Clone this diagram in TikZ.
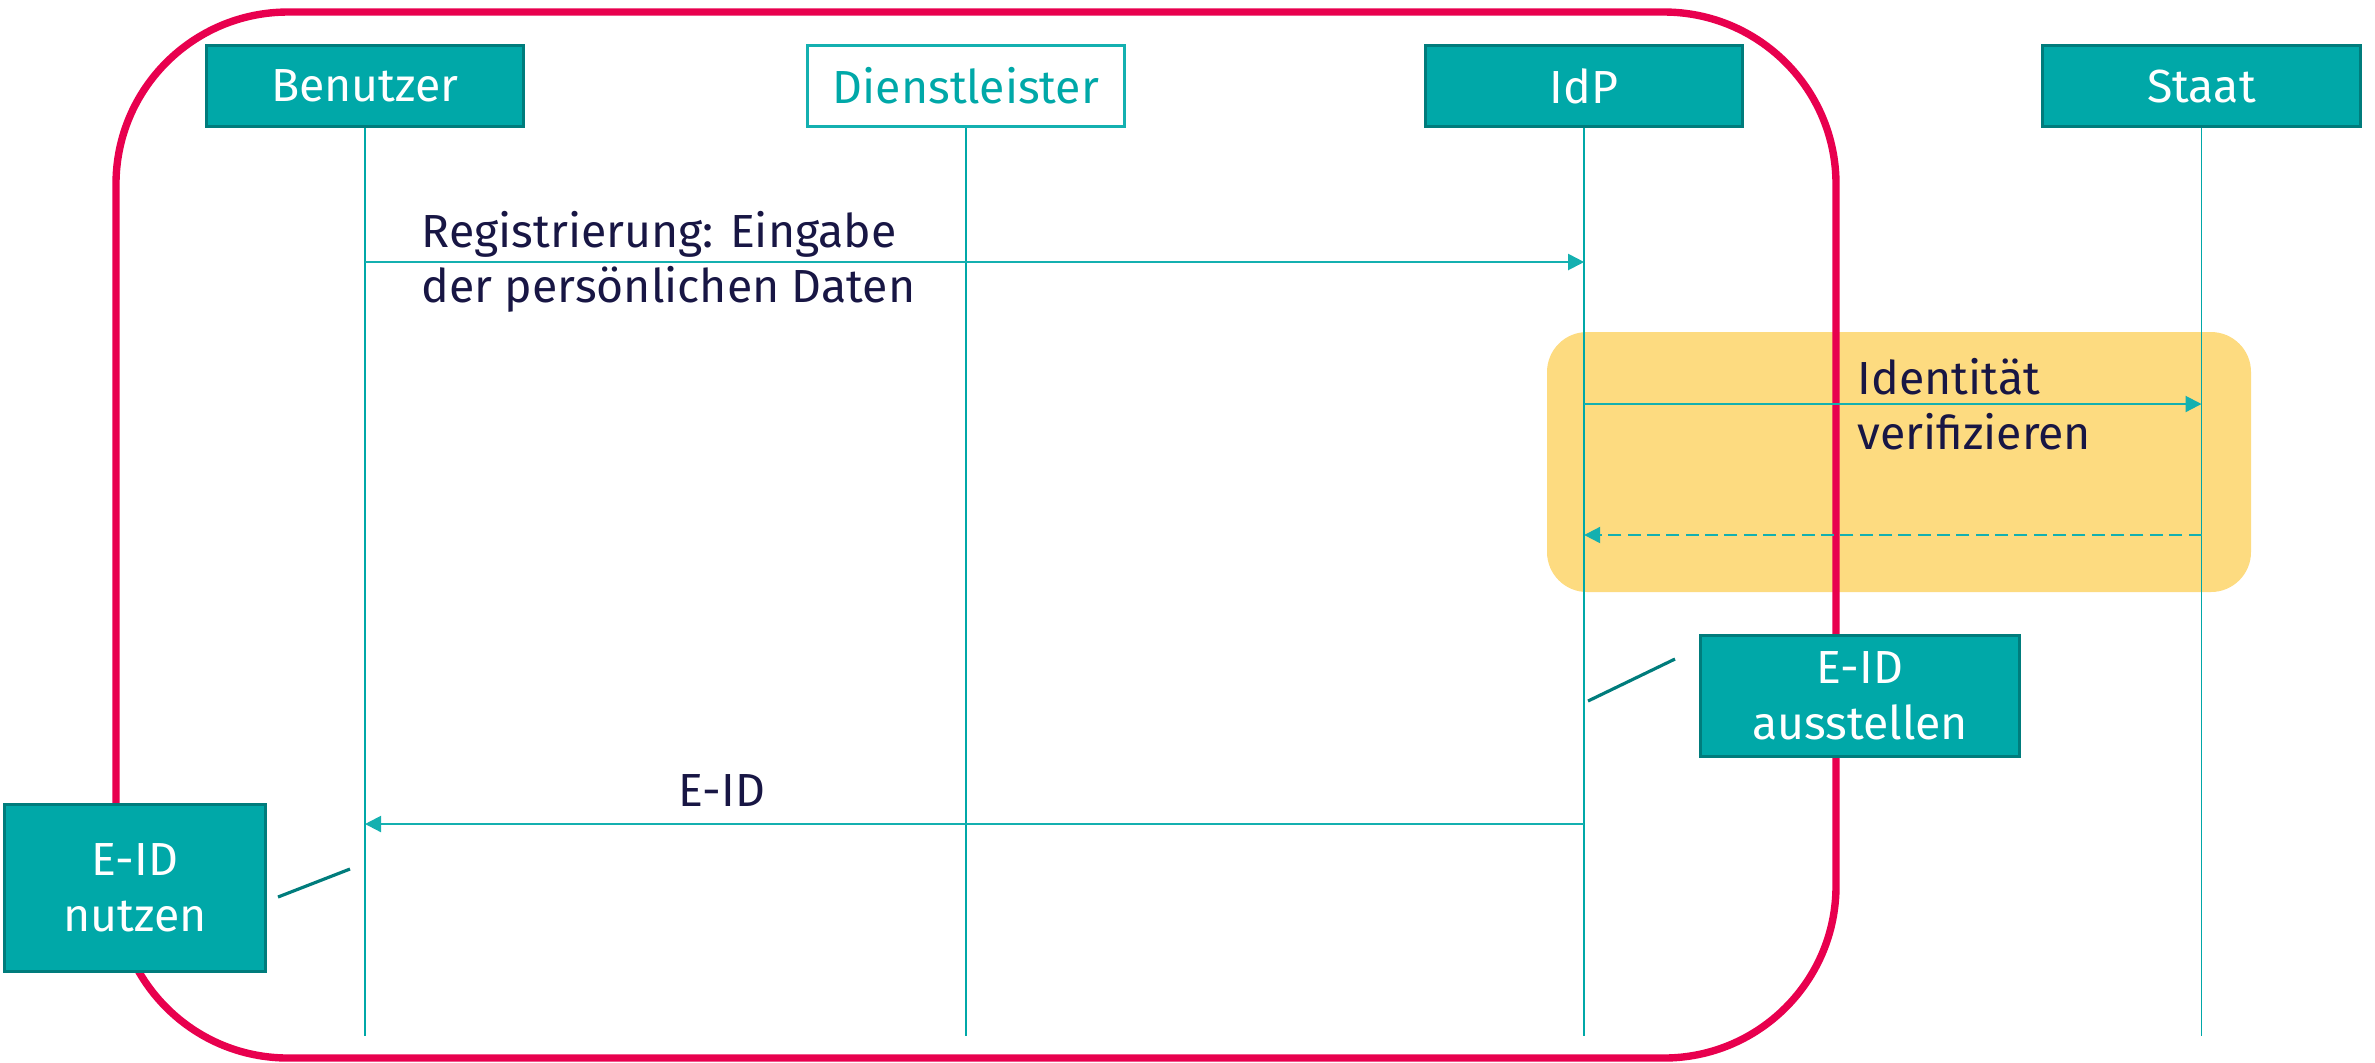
\documentclass[tikz,border=0pt]{standalone}
\usepackage{fontspec}
\setmainfont{Fira Sans}
\usepackage{tikz}
\usetikzlibrary{arrows.meta}
\usetikzlibrary{positioning}

\definecolor{tealbox}{RGB}{0,168,168}
\definecolor{tealdark}{RGB}{0,124,124}
\definecolor{tealline}{RGB}{20,176,176}
\definecolor{framered}{RGB}{232,0,78}
\definecolor{verifyyellow}{RGB}{253,219,128}
\definecolor{textnavy}{RGB}{24,22,68}

\begin{document}
\begin{tikzpicture}[
            x=0.01cm,y=-0.01cm,
            every node/.style={align=center,font=\fontsize{13.2}{15.8}\selectfont},
            actor box/.style={rectangle,draw=tealdark,line width=0.85pt,fill=tealbox,text=white,minimum width=3.17cm,minimum height=0.81cm},
            service box/.style={rectangle,draw=tealline,line width=0.7pt,fill=white,text=tealbox,minimum width=3.17cm,minimum height=0.81cm},
            action box/.style={rectangle,draw=tealdark,line width=0.85pt,fill=tealbox,text=white},
            msg label/.style={rectangle,draw=none,inner sep=0pt,text=textnavy,align=left},
            lifeline/.style={draw=tealbox,line width=0.55pt},
            msg/.style={draw=tealline,line width=0.6pt},
            reply/.style={msg,dash pattern=on 3.7pt off 1.8pt},
            note line/.style={draw=tealdark,line width=0.9pt},
            frame/.style={draw=framered,line width=2.1pt,rounded corners=1.72cm},
            verify area/.style={fill=verifyyellow,rounded corners=0.4cm}
        ]
        \tikzset{>={Triangle[length=1.6mm,width=1.6mm]}}
        \useasboundingbox (0,0) rectangle (2375,1062);

        \fill[verify area] (1547,332) rectangle (2251,592);
        \draw[frame] (116,12) rectangle (1836,1058);

        \node[actor box] (benutzer) at (365,86) {Benutzer};
        \node[service box,right=2.81cm of benutzer] (dienstleister) {Dienstleister};
        \node[actor box,right=2.98cm of dienstleister] (idp) {IdP};
        \node[actor box,right=2.97cm of idp] (staat) {Staat};

        \coordinate (benutzer end) at (benutzer |- 0,1036);
        \coordinate (dienstleister end) at (dienstleister |- 0,1036);
        \coordinate (idp end) at (idp |- 0,1036);
        \coordinate (staat end) at (staat |- 0,1036);

        \draw[lifeline] (benutzer) -- (benutzer end);
        \draw[lifeline] (dienstleister) -- (dienstleister end);
        \draw[lifeline] (idp) -- (idp end);
        \draw[lifeline] (staat) -- (staat end);

        \draw[msg,->] (benutzer |- 0,262) -- (idp |- 0,262);
        \node[msg label,anchor=west] (registrierung) at (421,262) {Registrierung: Eingabe\\der persönlichen Daten};

        \draw[msg,->] (idp |- 0,404) -- (staat |- 0,404);
        \node[msg label,anchor=west] (verifizieren) at (1857,404) {Identität\\verifizieren};
        \draw[reply,->] (staat |- 0,535) -- (idp |- 0,535);

        \node[action box,minimum width=3.18cm,minimum height=1.21cm] (ausstellen) at (1860,696) {E-ID\\ausstellen};
        \coordinate (ausstellen foot) at (1588,701);
        \coordinate (ausstellen head) at (1675,659);
        \draw[note line] (ausstellen foot) -- (ausstellen head);

        \draw[msg,->] (idp |- 0,824) -- (benutzer |- 0,824);
        \node[msg label,anchor=base] (eid) at (722,806) {E-ID};

        \node[action box,minimum width=2.6cm,minimum height=1.67cm] (nutzen) at (135,888) {E-ID\\nutzen};
        \coordinate (nutzen foot) at (278,897);
        \coordinate (nutzen head) at (350,869);
        \draw[note line] (nutzen foot) -- (nutzen head);
    \end{tikzpicture}
\end{document}
